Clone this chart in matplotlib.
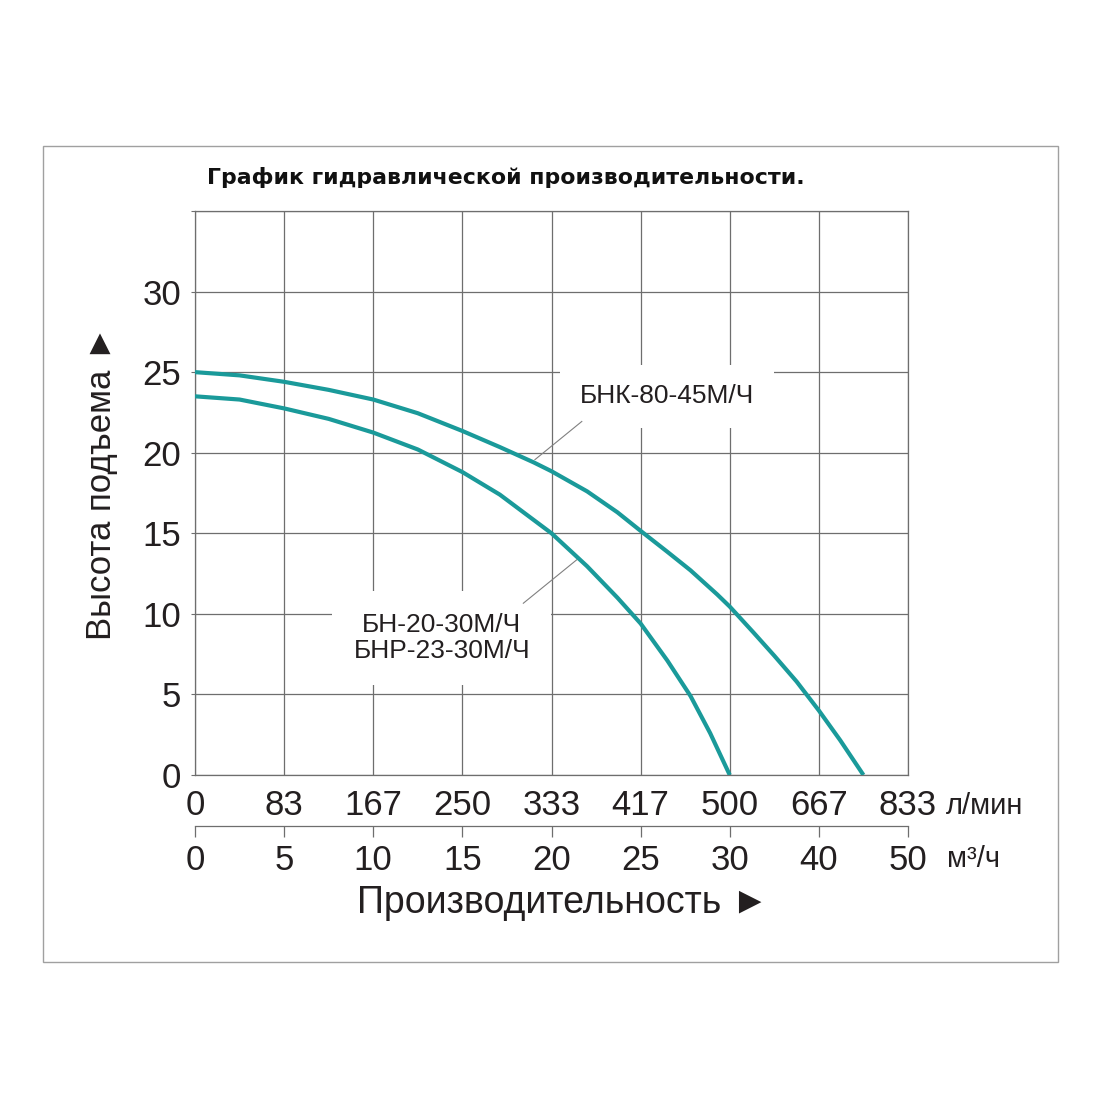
import numpy as np
import matplotlib
matplotlib.use("Agg")
import matplotlib.pyplot as plt
from matplotlib.patches import Rectangle

plt.rcParams['font.family'] = ['Liberation Sans', 'DejaVu Sans']

# ---- data ----
x_ticks_m3h = [0, 5, 10, 15, 20, 25, 30, 40, 50]
x_ticks_lmin = ['0', '83', '167', '250', '333', '417', '500', '667', '833']
y_ticks = [0, 5, 10, 15, 20, 25, 30]

q_bn = [0, 2.5, 5, 7.5, 10, 12.5, 15, 17.1, 20, 22, 23.7, 25, 26.5, 27.8, 28.9, 30]
h_bn = [23.5, 23.3, 22.75, 22.1, 21.25, 20.2, 18.8, 17.4, 15.0, 12.95, 11.0, 9.4, 7.1, 4.9, 2.6, 0]

q_bnk = [0, 2.5, 5, 7.5, 10, 12.5, 15, 17.1, 19, 20, 22, 23.7, 25, 26.5, 27.8, 29.3, 30,
         32.65, 35, 37.5, 40, 42.4, 45]
h_bnk = [25.0, 24.8, 24.4, 23.9, 23.3, 22.45, 21.35, 20.35, 19.4, 18.85, 17.6, 16.3, 15.15,
         13.85, 12.7, 11.2, 10.45, 8.85, 7.4, 5.8, 4.0, 2.15, 0]

label_bnk = 'БНК-80-45М/Ч'
label_bn = 'БН-20-30М/Ч\nБНР-23-30М/Ч'

# ---- scale: tick positions equally spaced (piecewise linear axis) ----
tick_idx = np.arange(len(x_ticks_m3h), dtype=float)
def fwd(v):
    return np.interp(v, x_ticks_m3h, tick_idx)
def inv(v):
    return np.interp(v, tick_idx, x_ticks_m3h)

W = H = 1100
fig = plt.figure(figsize=(11, 11), dpi=100)
fig.patch.set_facecolor('white')

def fx(px):
    return px / W
def fy(py):
    return 1 - py / H

# outer border
fig.add_artist(Rectangle((fx(43), fy(962)), (1058 - 43) / W, (962 - 146) / H,
                         transform=fig.transFigure, fill=False,
                         edgecolor='#a0a0a0', linewidth=1.0))

left, right, bottom, top = 195, 908, 775, 211
ax = fig.add_axes([fx(left), fy(bottom), (right - left) / W, (bottom - top) / H])
ax.set_xscale('function', functions=(fwd, inv))
ax.set_xlim(0, 50)
ax.set_ylim(0, 35)

grid_c = '#6e6e6e'
txt_c = '#231f20'
ax.set_xticks(x_ticks_m3h)
ax.set_xticklabels(x_ticks_lmin)
ax.set_yticks(list(y_ticks) + [35])
ax.set_yticklabels([str(v) for v in y_ticks] + [''])
ax.minorticks_off()
ax.grid(True, color=grid_c, linewidth=0.9)
ax.set_axisbelow(True)
for s in ax.spines.values():
    s.set_color(grid_c)
    s.set_linewidth(0.9)
ax.tick_params(axis='x', length=0, pad=10, labelsize=25, labelcolor=txt_c)
ax.tick_params(axis='y', length=3, color=grid_c, pad=7, labelsize=25, labelcolor=txt_c)

curve_c = '#1a9a9a'
ax.plot(q_bnk, h_bnk, color=curve_c, linewidth=3.0, zorder=4,
        solid_joinstyle='round', solid_capstyle='butt')
ax.plot(q_bn, h_bn, color=curve_c, linewidth=3.0, zorder=4,
        solid_joinstyle='round', solid_capstyle='butt')

# annotations with white boxes
ax.text(26.46, 23.5, label_bnk, ha='center', va='center', fontsize=19, color=txt_c,
        zorder=3, bbox=dict(boxstyle='square,pad=0.75', facecolor='white', edgecolor='none'))
ax.text(13.84, 8.5, label_bn, ha='center', va='center', fontsize=19, color=txt_c,
        linespacing=1.15, zorder=3,
        bbox=dict(boxstyle='square,pad=0.8', facecolor='white', edgecolor='none'))
ax.plot([21.7, 19.07], [21.94, 19.57], color='#808080', linewidth=0.8, zorder=3.5)
ax.plot([18.42, 21.41], [10.66, 13.35], color='#808080', linewidth=0.8, zorder=3.5)

# second (m3/h) axis
ax2 = fig.add_axes([fx(left), fy(826), (right - left) / W, 0.0001])
ax2.set_xscale('function', functions=(fwd, inv))
ax2.set_xlim(0, 50)
ax2.set_xticks(x_ticks_m3h)
ax2.set_xticklabels([str(v) for v in x_ticks_m3h])
ax2.minorticks_off()
ax2.set_yticks([])
for k in ['left', 'right', 'top']:
    ax2.spines[k].set_visible(False)
ax2.spines['bottom'].set_color(grid_c)
ax2.spines['bottom'].set_linewidth(0.9)
ax2.patch.set_visible(False)
ax2.tick_params(axis='x', direction='out', length=8, width=0.9, color=grid_c,
                pad=5, labelsize=25, labelcolor=txt_c)

# unit labels
fig.text(fx(946), fy(806), 'л/мин', ha='left', va='center', fontsize=21, color=txt_c)
fig.text(fx(947), fy(859), 'м³/ч', ha='left', va='center', fontsize=21, color=txt_c)

# axis titles
fig.text(fx(563), fy(903), 'Производительность ►', ha='center', va='center',
         fontsize=27, color=txt_c)
fig.text(fx(102), fy(483), 'Высота подъема ►', ha='center', va='center',
         rotation=90, fontsize=25, color=txt_c)

# title
fig.text(fx(506), fy(178), 'График гидравлической производительности.', ha='center',
         va='center', fontsize=15.8, fontweight='bold', color='#111111',
         family=['DejaVu Sans'])

fig.savefig('out.png', dpi=100, facecolor='white')
